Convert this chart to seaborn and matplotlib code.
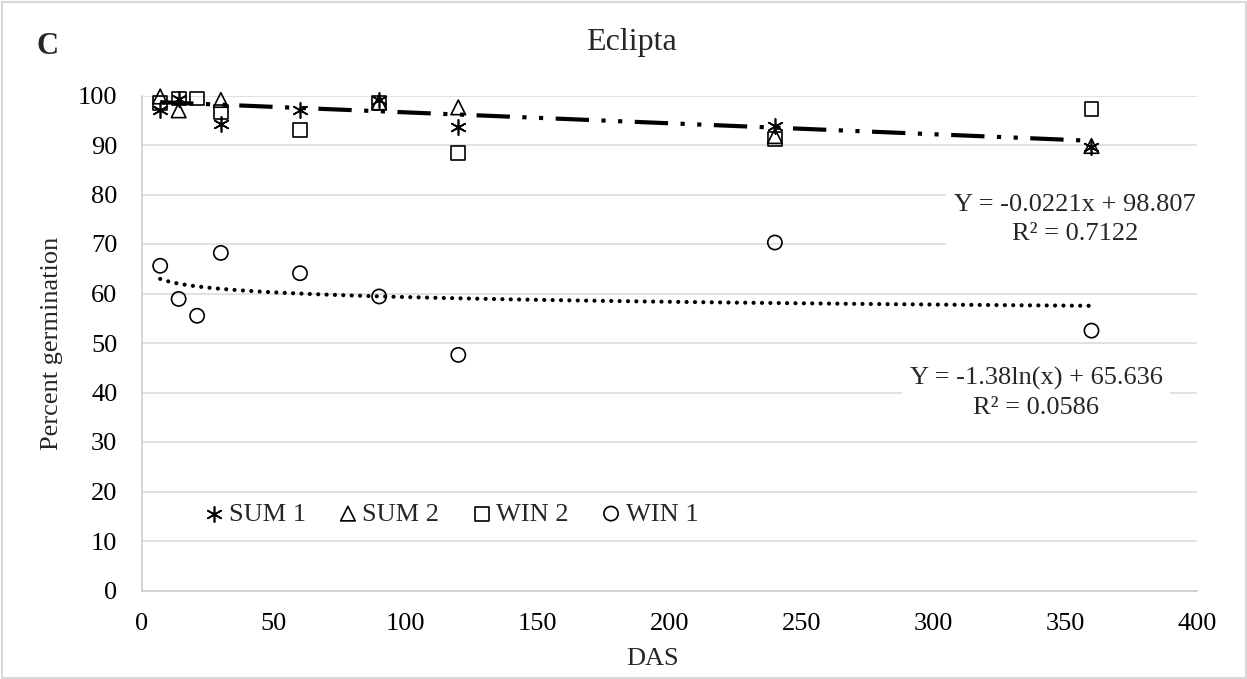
import numpy as np
import pandas as pd
import matplotlib
matplotlib.use("Agg")
import matplotlib.pyplot as plt
from matplotlib.patches import Rectangle
import seaborn as sns

# Germination (%) of Eclipta seed by days after storage (DAS)
days_sum1 = [7, 14, 30, 60, 90, 120, 240, 360]
sum1 = [97.1, 99.2, 94.3, 97.1, 99.1, 93.6, 93.8, 89.6]
days_sum2 = [7, 14, 30, 90, 120, 240, 360]
sum2 = [99.8, 97.0, 99.1, 98.6, 97.6, 91.8, 89.8]
days_win2 = [7, 14, 21, 30, 60, 90, 120, 240, 360]
win2 = [98.5, 99.4, 99.4, 96.6, 93.0, 98.4, 88.3, 91.2, 97.2]
days_win1 = [7, 14, 21, 30, 60, 90, 120, 240, 360]
win1 = [65.6, 58.9, 55.5, 68.2, 64.1, 59.4, 47.6, 70.3, 52.5]

series_names = ["SUM 1", "SUM 2", "WIN 2", "WIN 1"]

# Fitted trend lines
lin_slope, lin_intercept, lin_r2 = -0.0221, 98.807, 0.7122
log_coef, log_intercept, log_r2 = -1.38, 65.636, 0.0586
trend_start, trend_end = 7, 360

x_ticks = [0, 50, 100, 150, 200, 250, 300, 350, 400]
y_ticks = [0, 10, 20, 30, 40, 50, 60, 70, 80, 90, 100]

df = pd.concat([
    pd.DataFrame({"DAS": d, "germ": v, "series": n})
    for d, v, n in zip([days_sum1, days_sum2, days_win2, days_win1],
                       [sum1, sum2, win2, win1], series_names)
], ignore_index=True)

sns.set_theme(style="white")
plt.rcParams["font.family"] = ["Liberation Serif", "DejaVu Serif"]

W, H = 1247, 679
fig = plt.figure(figsize=(W / 100, H / 100), dpi=100)
ax_l, ax_r, ax_b, ax_t = 141.7, 1197.0, 590.5, 95.5
ax = fig.add_axes([ax_l / W, 1 - ax_b / H, (ax_r - ax_l) / W, (ax_b - ax_t) / H])

# trend lines
xs = np.linspace(trend_start, trend_end, 300)
sns.lineplot(x=xs, y=lin_slope * xs + lin_intercept, ax=ax, color="black",
             linewidth=3.0, linestyle=(0, (8.0, 3.0, 1.0, 3.0, 1.0, 3.0)),
             zorder=4, sort=False, estimator=None)
sns.lineplot(x=xs, y=log_coef * np.log(xs) + log_intercept, ax=ax, color="black",
             linewidth=3.0, linestyle=(0, (0.01, 2.0)), dash_capstyle="round",
             zorder=4, sort=False, estimator=None)

marker_map = {"SUM 1": (6, 2, 0), "SUM 2": "^", "WIN 2": "s", "WIN 1": "o"}
size_map = {"SUM 1": 120, "SUM 2": 110, "WIN 2": 100, "WIN 1": 105}
for name in series_names:
    sub = df[df["series"] == name]
    m = marker_map[name]
    if name == "SUM 1":
        sns.scatterplot(data=sub, x="DAS", y="germ", ax=ax, marker=m,
                        s=size_map[name], color="black", linewidth=1.2,
                        label=name, clip_on=False, zorder=5, legend=False)
    else:
        sns.scatterplot(data=sub, x="DAS", y="germ", ax=ax, marker=m,
                        s=size_map[name], color="black", facecolor="none",
                        edgecolor="black", linewidth=1.2, label=name,
                        clip_on=False, zorder=5, legend=False)

ax.set_xlim(0, 400)
ax.set_ylim(0, 100)
ax.set_xticks(x_ticks)
ax.set_yticks(y_ticks)
ax.grid(axis="y", color="#d9d9d9", linewidth=1.1)
ax.grid(axis="x", visible=False)
ax.set_axisbelow(True)
for side in ["top", "right"]:
    ax.spines[side].set_visible(False)
for side in ["left", "bottom"]:
    ax.spines[side].set_color("#c8c8c8")
    ax.spines[side].set_linewidth(1.1)
ax.tick_params(axis="both", length=0, labelsize=19, colors="black")
ax.tick_params(axis="y", pad=17.5)
ax.tick_params(axis="x", pad=16.5)

fs = 19
ax.set_xlabel("DAS", fontsize=fs, va="center")
ax.xaxis.set_label_coords((653 - ax_l) / (ax_r - ax_l), (ax_b - 659) / (ax_b - ax_t))
ax.set_ylabel("Percent germination", fontsize=fs, va="center")
ax.yaxis.set_label_coords((52 - ax_l) / (ax_r - ax_l), (ax_b - 343.5) / (ax_b - ax_t))

ax.set_title("Eclipta", fontsize=23, x=(631 - ax_l) / (ax_r - ax_l),
             y=(ax_b - 50) / (ax_b - ax_t), va="baseline", pad=0)
fig.text(47 / W, 1 - 54 / H, "C", fontsize=22, fontweight="bold",
         ha="center", va="baseline")

box = dict(boxstyle="square,pad=0.3", fc="white", ec="none")
ax.text(353.8, 74.9, f"Y = {lin_slope}x + {lin_intercept}\nR\u00b2 = {lin_r2}",
        ha="center", va="center", fontsize=fs, bbox=box, zorder=3,
        clip_on=False, multialignment="center", linespacing=1.4)
ax.text(339.0, 39.9, f"Y = {log_coef}ln(x) + {log_intercept}\nR\u00b2 = {log_r2}",
        ha="center", va="center", fontsize=fs, bbox=box, zorder=3,
        clip_on=False, multialignment="center", linespacing=1.4)

handles, labels = ax.get_legend_handles_labels()
ax.legend(handles, labels, loc="center", bbox_to_anchor=(0.293, 0.155), ncol=4,
          frameon=False, markerscale=1.0, handletextpad=0.15, columnspacing=1.2,
          handlelength=0.8, fontsize=fs, borderaxespad=0)

fig.patches.append(Rectangle((1.5 / W, 1.5 / H), 1 - 3 / W, 1 - 3 / H,
                             transform=fig.transFigure, fill=False,
                             edgecolor="#d9d9d9", linewidth=1.5))

fig.savefig("out.png", dpi=100)
